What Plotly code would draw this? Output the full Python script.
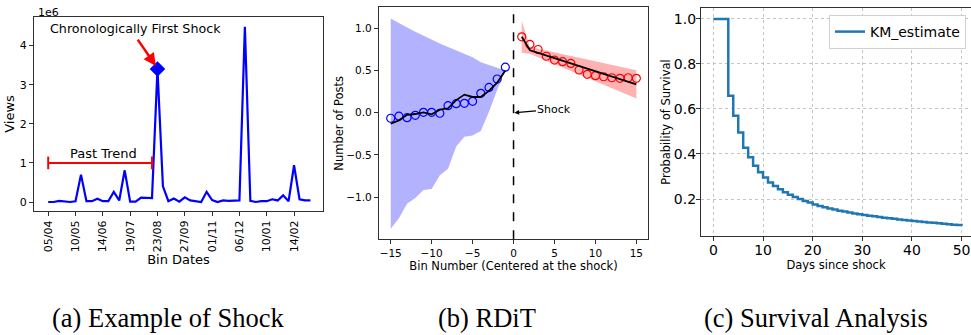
import plotly.graph_objects as go

W, H = 971, 335

# ---------------- data ----------------
# (a) weekly views (millions)
views_m = [0.0, 0.0, 0.03, 0.02, 0.0, 0.02, 0.70, 0.02, 0.02, 0.085,
           0.02, 0.02, 0.26, 0.04, 0.81, 0.01, 0.01, 0.11, 0.11, 0.10,
           3.40, 0.40, 0.02, 0.09, 0.01, 0.12, 0.04, 0.02, 0.0, 0.26,
           0.05, 0.0, 0.04, 0.03, 0.04, 0.04, 4.48, 0.03, 0.0, 0.02,
           0.02, 0.07, 0.04, 0.17, 0.02, 0.94, 0.07, 0.04, 0.04]
bin_index = list(range(len(views_m)))
date_tick_pos = [0, 5, 10, 15, 20, 25, 30, 35, 40, 45]
date_tick_labels = ["05/04", "10/05", "14/06", "19/07", "23/08",
                    "27/09", "01/11", "06/12", "10/01", "14/02"]
shock_index = 20
past_trend_bins = [0, 19]
views_ticks = [0, 1, 2, 3, 4]

# (b) RDiT
left_x = [-15, -14, -13, -12, -11, -10, -9, -8, -7, -6, -5, -4, -3, -2, -1]
left_obs = [-0.065, -0.04, -0.058, -0.03, 0.005, 0.005, -0.006, 0.084, 0.108,
            0.112, 0.136, 0.23, 0.30, 0.40, 0.54]
left_fit = [-0.13, -0.09, -0.025, -0.015, 0.005, -0.018, 0.037, 0.053, 0.15,
            0.215, 0.187, 0.187, 0.26, 0.357, 0.50]
left_upper = [1.117, 1.06, 1.01, 0.96, 0.91, 0.86, 0.82, 0.78, 0.74, 0.70,
              0.657, 0.60, 0.566, 0.54, 0.50]
left_lower = [-1.375, -1.25, -1.08, -1.01, -0.915, -0.905, -0.74, -0.665, -0.40,
              -0.283, -0.27, -0.215, 0.013, 0.27, 0.50]
right_x = [1, 2, 3, 4, 5, 6, 7, 8, 9, 10, 11, 12, 13, 14, 15]
right_obs = [0.90, 0.81, 0.75, 0.67, 0.625, 0.605, 0.585, 0.507, 0.455, 0.44,
             0.427, 0.415, 0.408, 0.415, 0.408]
right_fit = [0.90, 0.74, 0.709, 0.678, 0.647, 0.616, 0.585, 0.554, 0.523, 0.492,
             0.461, 0.430, 0.399, 0.368, 0.337]
right_upper = [1.09, 0.78, 0.759, 0.738, 0.717, 0.695, 0.674, 0.653, 0.632, 0.611,
               0.589, 0.568, 0.547, 0.526, 0.505]
right_lower = [0.71, 0.70, 0.659, 0.618, 0.578, 0.537, 0.496, 0.455, 0.414, 0.374,
               0.333, 0.292, 0.251, 0.210, 0.17]

# (c) Kaplan-Meier survival
km_days = list(range(0, 51))
km_survival = [1.0, 1.0, 1.0, 0.659, 0.570, 0.495, 0.428, 0.385, 0.348, 0.319,
               0.295, 0.273, 0.258, 0.243, 0.230, 0.219, 0.209, 0.200, 0.191, 0.184,
               0.176, 0.169, 0.163, 0.158, 0.153, 0.148, 0.144, 0.140, 0.136, 0.132,
               0.129, 0.126, 0.123, 0.120, 0.117, 0.114, 0.112, 0.109, 0.107, 0.104,
               0.102, 0.100, 0.098, 0.096, 0.094, 0.092, 0.090, 0.088, 0.086, 0.084,
               0.081]

views = [v * 1e6 for v in views_m]

# ---------------- helpers ----------------
def fx(p):
    return p / W

def fy(p):
    return 1 - p / H

SANS = "DejaVu Sans"
SERIF = "'Liberation Serif', 'Times New Roman', Times, serif"
FRAME = "#303030"

fig = go.Figure()

# ---- panel (a)
fig.add_trace(go.Scatter(x=bin_index, y=views, mode="lines",
                         line=dict(color="#0000ff", width=2.2),
                         xaxis="x", yaxis="y", showlegend=False))
fig.add_trace(go.Scatter(x=[shock_index], y=[views[shock_index]], mode="markers",
                         marker=dict(symbol="diamond", size=12, color="#0000ff"),
                         xaxis="x", yaxis="y", showlegend=False))
fig.add_trace(go.Scatter(x=past_trend_bins, y=[1e6, 1e6], mode="lines+markers",
                         line=dict(color="#ff0000", width=2),
                         marker=dict(symbol="line-ns", size=9,
                                     line=dict(color="#ff0000", width=2)),
                         xaxis="x", yaxis="y", showlegend=False))

# ---- panel (b)
fig.add_trace(go.Scatter(x=left_x, y=left_upper, mode="lines", line=dict(width=0),
                         xaxis="x2", yaxis="y2", showlegend=False, hoverinfo="skip"))
fig.add_trace(go.Scatter(x=left_x, y=left_lower, mode="lines", line=dict(width=0),
                         fill="tonexty", fillcolor="rgba(0,0,255,0.3)",
                         xaxis="x2", yaxis="y2", showlegend=False, hoverinfo="skip"))
fig.add_trace(go.Scatter(x=right_x, y=right_upper, mode="lines", line=dict(width=0),
                         xaxis="x2", yaxis="y2", showlegend=False, hoverinfo="skip"))
fig.add_trace(go.Scatter(x=right_x, y=right_lower, mode="lines", line=dict(width=0),
                         fill="tonexty", fillcolor="rgba(255,0,0,0.3)",
                         xaxis="x2", yaxis="y2", showlegend=False, hoverinfo="skip"))
fig.add_trace(go.Scatter(x=left_x, y=left_obs, mode="markers",
                         marker=dict(symbol="circle-open", size=8, color="#0000ff",
                                     line=dict(width=1.2)),
                         xaxis="x2", yaxis="y2", showlegend=False))
fig.add_trace(go.Scatter(x=right_x, y=right_obs, mode="markers",
                         marker=dict(symbol="circle-open", size=8, color="#ff0000",
                                     line=dict(width=1.2)),
                         xaxis="x2", yaxis="y2", showlegend=False))
fig.add_trace(go.Scatter(x=left_x, y=left_fit, mode="lines",
                         line=dict(color="black", width=1.8),
                         xaxis="x2", yaxis="y2", showlegend=False))
fig.add_trace(go.Scatter(x=right_x, y=right_fit, mode="lines",
                         line=dict(color="black", width=1.8),
                         xaxis="x2", yaxis="y2", showlegend=False))

# ---- panel (c)
fig.add_trace(go.Scatter(x=km_days, y=km_survival, mode="lines", line_shape="hv",
                         line=dict(color="#1f77b4", width=2.5), name="KM_estimate",
                         xaxis="x3", yaxis="y3", showlegend=True))

axis_common = dict(showline=True, mirror=True, linecolor=FRAME, linewidth=1.2,
                   ticks="outside", ticklen=4, tickcolor=FRAME, zeroline=False,
                   showgrid=False)

fig.update_layout(
    width=W, height=H,
    margin=dict(l=0, r=0, t=0, b=0),
    paper_bgcolor="white", plot_bgcolor="white",
    font=dict(family=SANS, color="black"),
    xaxis=dict(domain=[fx(34), fx(323)], range=[-2.6, 50.3], anchor="y",
               tickvals=date_tick_pos, ticktext=date_tick_labels, tickangle=-90,
               tickfont=dict(size=11), title=dict(text="Bin Dates", font=dict(size=13),
                                                  standoff=1),
               **axis_common),
    yaxis=dict(domain=[fy(211), fy(17)], range=[-0.23e6, 4.73e6], anchor="x",
               tickvals=[t * 1e6 for t in views_ticks],
               ticktext=[str(t) for t in views_ticks],
               tickfont=dict(size=11), title=dict(text="Views", font=dict(size=13),
                                                  standoff=2),
               **axis_common),
    xaxis2=dict(domain=[fx(379), fx(648)], range=[-16.43, 16.42], anchor="y2",
                tickvals=[-15, -10, -5, 0, 5, 10, 15], tickfont=dict(size=10.5),
                title=dict(text="Bin Number (Centered at the shock)",
                           font=dict(size=11.5), standoff=0),
                **axis_common),
    yaxis2=dict(domain=[fy(239.3), fy(7.3)], range=[-1.5, 1.25], anchor="x2",
                tickvals=[-1.0, -0.5, 0.0, 0.5, 1.0], tickformat=".1f",
                tickfont=dict(size=10.5),
                title=dict(text="Number of Posts", font=dict(size=11.5), standoff=0),
                **axis_common),
    xaxis3=dict(domain=[fx(701), 1.0], range=[-2.5, 51.9], anchor="y3",
                tickvals=[0, 10, 20, 30, 40, 50], tickfont=dict(size=14),
                ticklabelstandoff=-3,
                title=dict(text="Days since shock", font=dict(size=11.5), standoff=0),
                showline=True, mirror=True, linecolor=FRAME, linewidth=1.2,
                ticks="outside", ticklen=4, tickcolor=FRAME, zeroline=False,
                showgrid=True, gridcolor="#c4c4c4", griddash="dot", gridwidth=1),
    yaxis3=dict(domain=[fy(235.7), fy(8.3)], range=[0.037, 1.047], anchor="x3",
                tickvals=[0.2, 0.4, 0.6, 0.8, 1.0], tickformat=".1f",
                tickfont=dict(size=14), ticklabelstandoff=-3,
                title=dict(text="Probability of Survival", font=dict(size=11.5),
                           standoff=0),
                showline=True, mirror=True, linecolor=FRAME, linewidth=1.2,
                ticks="outside", ticklen=4, tickcolor=FRAME, zeroline=False,
                showgrid=True, gridcolor="#c4c4c4", griddash="dot", gridwidth=1),
    legend=dict(x=fx(966), xanchor="right", y=fy(15), yanchor="top",
                bgcolor="white", bordercolor="#d0d0d0", borderwidth=1,
                font=dict(family=SANS, size=14)),
    shapes=[dict(type="line", xref="x2", yref="y2 domain", x0=0, x1=0, y0=0, y1=1,
                 line=dict(color="black", width=1.5, dash="dash"))],
)

annotations = [
    dict(text="1e6", xref="paper", yref="paper", x=fx(36), y=fy(13),
         xanchor="left", yanchor="middle", showarrow=False, font=dict(size=11)),
    dict(text="Chronologically First Shock", xref="x", yref="y", x=15.9, y=4.43e6,
         xanchor="center", showarrow=False, font=dict(size=12.7)),
    dict(text="", xref="x", yref="y", x=19.7, y=3.48e6, ax=16.2, ay=4.19e6,
         axref="x", ayref="y", showarrow=True, arrowhead=2, arrowsize=1,
         arrowwidth=2.5, arrowcolor="#ff0000"),
    dict(text="Past Trend", xref="x", yref="y", x=10.2, y=1.24e6,
         xanchor="center", showarrow=False, font=dict(size=13)),
    dict(text="Shock", xref="x2", yref="y2", x=0.1, y=0.0, ax=5.0, ay=0.04,
         axref="x2", ayref="y2", showarrow=True, arrowhead=2, arrowsize=0.8,
         arrowwidth=1.2, arrowcolor="black", font=dict(size=11)),
    dict(text="(a) Example of Shock", xref="paper", yref="paper", x=fx(168), y=0,
         xanchor="center", yanchor="bottom", showarrow=False,
         font=dict(family=SERIF, size=26.5)),
    dict(text="(b) RDiT", xref="paper", yref="paper", x=fx(487), y=0,
         xanchor="center", yanchor="bottom", showarrow=False,
         font=dict(family=SERIF, size=26.5)),
    dict(text="(c) Survival Analysis", xref="paper", yref="paper", x=fx(816), y=0,
         xanchor="center", yanchor="bottom", showarrow=False,
         font=dict(family=SERIF, size=26.5)),
]
fig.update_layout(annotations=annotations)

fig.write_html("out.html")
